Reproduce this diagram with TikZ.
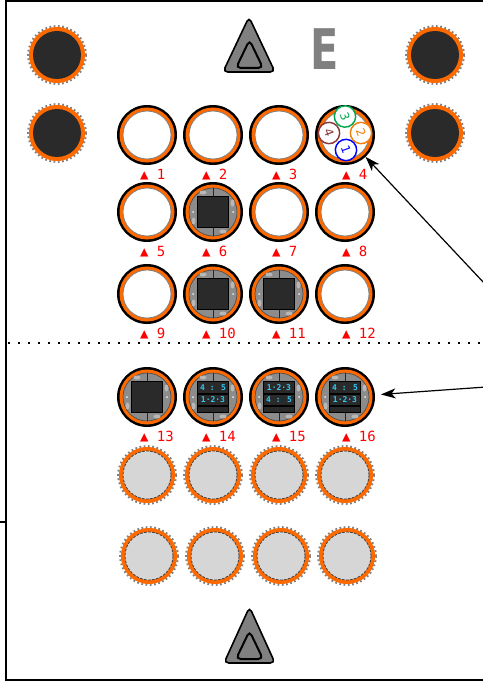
\documentclass[tikz,border=0pt]{standalone}
\usepackage{fontspec}
\setmainfont{DejaVu Sans}
\newfontfamily\labmono{DejaVu Sans Mono}
\usetikzlibrary{arrows.meta}
\definecolor{ringor}{HTML}{FF6A00}
\definecolor{darkfill}{HTML}{2A2A2A}
\definecolor{modgray}{HTML}{8C8C8C}
\definecolor{modlight}{HTML}{B8B8B8}
\definecolor{discgray}{HTML}{D6D6D6}
\definecolor{trigray}{HTML}{808080}
\definecolor{ledcyan}{HTML}{35C8F5}
\definecolor{cblue}{HTML}{0000FF}
\definecolor{corange}{HTML}{F08010}
\definecolor{cgreen}{HTML}{00A850}
\definecolor{cbrown}{HTML}{8B3A3A}
\tikzset{
  slot/.style={circle, minimum size=45pt, inner sep=0pt, outer sep=0pt},
  lab/.style={font=\labmono\fontsize{10.5}{12}\selectfont, text=red, inner sep=0pt, anchor=base west},
  led/.style={font=\labmono\bfseries\fontsize{6}{6}\selectfont, text=ledcyan, inner sep=0pt},
  conn/.style={-{Stealth[length=11pt,width=7.5pt,inset=3pt]}, line width=0.9pt},
  teeth/.style={draw=gray, line width=1.6pt, dash pattern=on 1.3pt off 1.9pt},
  trishape/.style={fill=trigray, draw=black, line width=1.2pt, rounded corners=3.5pt},
  smallc/.style={circle, minimum size=16pt, inner sep=0pt, fill=white, line width=1.1pt, font=\fontsize{9}{9}\selectfont},
}
\newcommand\ringEmpty[3]{%
  \fill[black] (#1,#2) circle[radius=30];
  \fill[ringor] (#1,#2) circle[radius=27.5];
  \fill[white] (#1,#2) circle[radius=24];
  \draw[gray, line width=0.6pt] (#1,#2) circle[radius=24];
  \node[slot] (m#3) at (#1,#2) {};}
\newcommand\ringBase[3]{%
  \fill[black] (#1,#2) circle[radius=30];
  \fill[ringor] (#1,#2) circle[radius=27.5];
  \fill[modgray] (#1,#2) circle[radius=24];
  \draw[gray!60!black, line width=0.5pt] (#1,#2) circle[radius=24];
  \draw[gray!30!black, line width=0.5pt] (#1,{#2-24}) -- (#1,{#2-16}) (#1,{#2+16}) -- (#1,{#2+24});
  \fill[modlight] ({#1-10},{#2-19.5}) ellipse[x radius=3.5, y radius=2];
  \fill[modlight] ({#1+10},{#2+19.5}) ellipse[x radius=3.5, y radius=2];
  \fill[modlight] ({#1-19.5},{#2+9}) ellipse[x radius=2, y radius=3.5];
  \fill[modlight] ({#1+19.5},{#2-9}) ellipse[x radius=2, y radius=3.5];
  \foreach \a in {45,135,225,315,0,180}{\fill[white!85!gray] ({#1+20*cos(\a)},{#2+20*sin(\a)}) circle[radius=1];}
  \fill[darkfill, draw=black, line width=0.8pt] ({#1-15.5},{#2-15.5}) rectangle ({#1+15.5},{#2+15.5});
  \node[slot] (m#3) at (#1,#2) {};}
\newcommand\ringDisp[5]{%
  \ringBase{#1}{#2}{#3}
  \draw[black, line width=0.8pt] ({#1-15.5},{#2-3}) -- ({#1+15.5},{#2-3}) ({#1-15.5},{#2+9}) -- ({#1+15.5},{#2+9});
  \node[led] (d#3a) at (#1,{#2-9}) {#4};
  \node[led] (d#3b) at (#1,{#2+3}) {#5};}
\newcommand\discBlack[2]{%
  \draw[teeth] (#1,#2) circle[radius=28.8];
  \fill[ringor] (#1,#2) circle[radius=28];
  \fill[darkfill] (#1,#2) circle[radius=24];}
\newcommand\discGrey[2]{%
  \draw[teeth] (#1,#2) circle[radius=28.8];
  \fill[ringor] (#1,#2) circle[radius=28];
  \fill[discgray] (#1,#2) circle[radius=24];
  \draw[black!75, line width=0.6pt, dash pattern=on 2pt off 1pt] (#1,#2) circle[radius=24];}
\begin{document}
\begin{tikzpicture}[x=0.75pt,y=-0.75pt]
\useasboundingbox (0,0) rectangle (482,681);
\fill[white] (0,0) rectangle (482,681);
% frame
\draw[line width=1.5pt] (500,1.5) -- (6,1.5) -- (6,679.5) -- (500,679.5);
\draw[line width=1.2pt] (0,522) -- (6,522);
% separator
\draw[line width=1.6pt, dash pattern=on 1.5pt off 6pt] (8,343) -- (482,343);
% corner discs
\discBlack{57}{55}
\discBlack{57}{133}
\discBlack{435}{55}
\discBlack{435}{133}
% top triangle and E
\draw[trishape] (249,17) -- (275,72) -- (223,72) -- cycle;
\draw[black, line width=1.5pt, rounded corners=3.5pt] (249.5,40) -- (263,68) -- (236,68) -- cycle;
\node[font=\bfseries\fontsize{42}{42}\selectfont, text=trigray, xscale=0.74, inner sep=0pt] (E) at (325,49.5) {E};
% bottom triangle
\draw[trishape] (249.5,607) -- (275,663) -- (224,663) -- cycle;
\draw[black, line width=1.5pt, rounded corners=3.5pt] (249.5,631) -- (263,659) -- (236,659) -- cycle;
% empty rings
\ringEmpty{147}{135}{1}
\ringEmpty{213}{135}{2}
\ringEmpty{279}{135}{3}
\ringEmpty{345}{135}{4}
\ringEmpty{147}{212}{5}
\ringEmpty{279}{212}{7}
\ringEmpty{345}{212}{8}
\ringEmpty{147}{294}{9}
\ringEmpty{345}{294}{12}
% module 4 inner circles
\node[smallc, draw=cgreen, text=cgreen, rotate=-70] (c3) at (345,116.5) {3};
\node[smallc, draw=cbrown, text=cbrown, rotate=-70] (c4) at (329,133) {4};
\node[smallc, draw=corange, text=corange, rotate=-70] (c2) at (361,133) {2};
\node[smallc, draw=cblue, text=cblue, rotate=-70] (c1) at (346,150) {1};
% modules
\ringBase{213}{212}{6}
\ringBase{213}{294}{10}
\ringBase{279}{294}{11}
\ringBase{147}{397}{13}
\ringDisp{213}{397}{14}{4 : 5}{1·2·3}
\ringDisp{279}{397}{15}{1·2·3}{4 : 5}
\ringDisp{345}{397}{16}{4 : 5}{1·2·3}
% grey discs
\discGrey{147}{475}
\discGrey{213}{475}
\discGrey{279}{475}
\discGrey{345}{475}
\discGrey{149}{556}
\discGrey{215}{556}
\discGrey{281}{556}
\discGrey{347}{556}
% labels
\foreach \n/\x/\y in {1/144/135, 2/206/135, 3/276/135, 4/346/135,
  5/144/212, 6/206/212, 7/276/212, 8/346/212,
  9/144/294, 10/206/294, 11/276/294, 12/346/294,
  13/144/397, 14/206/397, 15/276/397, 16/346/397}
  \node[lab] (l\n) at ({\x-4.2},{\y+44}) {▲ \n};
% connectors
\coordinate (a1) at (500,300);
\coordinate (a2) at (500,386);
\draw[conn] (a1) -- (m4);
\draw[conn, shorten >=4.5pt] (a2) -- (m16);
\end{tikzpicture}
\end{document}
